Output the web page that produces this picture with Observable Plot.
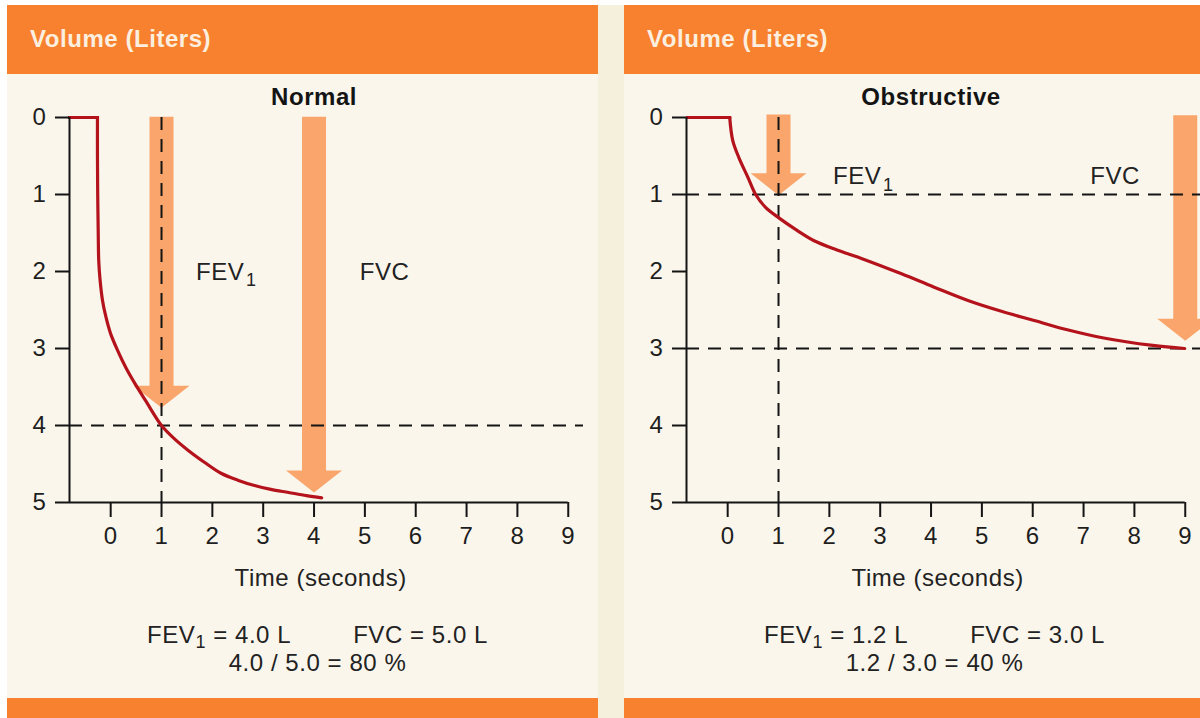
<!DOCTYPE html>
<html><head><meta charset="utf-8">
<script src="https://cdn.jsdelivr.net/npm/d3@7"></script>
<script src="https://cdn.jsdelivr.net/npm/@observablehq/plot@0.6"></script>
<style>
html,body{margin:0;padding:0;}
body{width:1200px;height:718px;overflow:hidden;position:relative;background:#fff;font-family:"Liberation Sans",Arial,sans-serif;}
.gap{position:absolute;left:598px;top:5px;width:26px;height:713px;background:#f4f0dc;}
.panel{position:absolute;top:5px;height:713px;background:#faf6ec;overflow:hidden;}
.head{position:absolute;left:0;top:0;width:100%;height:69px;background:#f7812f;}
.head span{position:absolute;left:23px;top:0;line-height:68px;color:#fcefdf;font-weight:bold;font-size:24px;letter-spacing:0.55px;}
.foot{position:absolute;left:0;bottom:0;width:100%;height:20px;background:#f7812f;}
.chart{position:absolute;left:0;top:69px;width:591px;}
.chart svg{max-width:none !important;}
.chart svg text{letter-spacing:0.55px;}
.cap{position:absolute;left:10.5px;width:600px;text-align:center;font-size:24px;letter-spacing:0.55px;line-height:28px;color:#222;white-space:pre;}
.cap sub{font-size:0.75em;vertical-align:-0.3em;line-height:0;}
</style></head>
<body>
<div class="gap"></div>
<div class="panel" id="p0" style="left:7px;width:591px;"><div class="head"><span>Volume (Liters)</span></div><div class="chart"></div><div class="cap c1" style="top:616px"></div><div class="cap c2" style="top:644px"></div><div class="foot"></div></div>
<div class="panel" id="p1" style="left:624px;width:576px;"><div class="head"><span>Volume (Liters)</span></div><div class="chart"></div><div class="cap c1" style="top:616px"></div><div class="cap c2" style="top:644px"></div><div class="foot"></div></div>
<script>
// ---- data ----
const xDomain = [-0.81, 9.3];
const yTicks = [0, 1, 2, 3, 4, 5];
const xTicks = [0, 1, 2, 3, 4, 5, 6, 7, 8, 9];
const titles = ["Normal", "Obstructive"];

const normalTime   = [-0.81, -0.26, -0.26, -0.255, -0.245, -0.235, -0.21, -0.16, -0.09, 0, 0.14, 0.30, 0.49, 0.69, 1.0, 1.25, 1.52, 1.85, 2.17, 2.5, 2.83, 3.15, 3.5, 3.85, 4.15];
const normalVolume = [0, 0, 0.5, 1.0, 1.5, 1.86, 2.1, 2.38, 2.6, 2.81, 3.03, 3.25, 3.47, 3.68, 4.0, 4.17, 4.32, 4.48, 4.62, 4.71, 4.78, 4.83, 4.87, 4.91, 4.94];

const obstructiveTime   = [-0.79, 0.04, 0.10, 0.22, 0.40, 0.55, 0.75, 1.0, 1.35, 1.70, 2.15, 2.63, 3.42, 4.05, 4.74, 5.4, 6.05, 6.7, 7.37, 8.36, 8.99];
const obstructiveVolume = [0, 0, 0.30, 0.52, 0.78, 1.0, 1.17, 1.30, 1.46, 1.60, 1.72, 1.83, 2.03, 2.2, 2.38, 2.52, 2.64, 2.76, 2.86, 2.96, 3.0];

const normalArrowTime = [1, 4];
const normalArrowTop = [-0.01, -0.01];
const normalArrowTip = [3.77, 4.87];
const obstructiveArrowTime = [1, 9];
const obstructiveArrowTop = [-0.04, -0.03];
const obstructiveArrowTip = [1.01, 2.9];

const normalHLines = [4];
const normalVLines = [1];
const obstructiveHLines = [1, 3];
const obstructiveVLines = [1];

const labelText = ["FEV", "FVC"];
const labelSub = ["1", ""];
const normalLabelTime = [1.68, 4.9];
const normalLabelVolume = [2.01, 2.01];
const obstructiveLabelTime = [2.07, 7.13];
const obstructiveLabelVolume = [0.77, 0.77];

const fev1Values = [4.0, 1.2];
const fvcValues = [5.0, 3.0];

// ---- build ----
const panels = [
  {title: titles[0], t: normalTime, v: normalVolume, at: normalArrowTime, atop: normalArrowTop, atip: normalArrowTip,
   h: normalHLines, vl: normalVLines, lt: normalLabelTime, lv: normalLabelVolume},
  {title: titles[1], t: obstructiveTime, v: obstructiveVolume, at: obstructiveArrowTime, atop: obstructiveArrowTop, atip: obstructiveArrowTip,
   h: obstructiveHLines, vl: obstructiveVLines, lt: obstructiveLabelTime, lv: obstructiveLabelVolume}
];

const W = 591, H = 624, mL = 62, mR = 15, mT = 43, mB = 196;
const xRange = [mL, W - mR], yRange = [mT, H - mB];
const pxX = (xRange[1] - xRange[0]) / (xDomain[1] - xDomain[0]);
const pxY = (yRange[1] - yRange[0]) / 5;
const ink = "#141414", red = "#b5131c", arrowColor = "#f9a56b";
const fs = 24;

panels.forEach((p, i) => {
  const curve = p.t.map((t, k) => ({t, v: p.v[k]}));
  const sw = 12 / pxX, hw = 28 / pxX, hh = 22 / pxY;
  const arrowPts = [];
  p.at.forEach((x, k) => {
    const top = p.atop[k], tip = p.atip[k], base = tip - hh;
    [[x - sw, top], [x + sw, top], [x + sw, base], [x + hw, base], [x, tip], [x - hw, base], [x - sw, base]]
      .forEach(([t, v]) => arrowPts.push({id: k, t, v}));
  });
  const labels = labelText.map((s, k) => ({t: p.lt[k], v: p.lv[k], s, sub: labelSub[k]}));
  const chart = Plot.plot({
    width: W, height: H, marginLeft: mL, marginRight: mR, marginTop: mT, marginBottom: mB,
    x: {domain: xDomain, range: xRange},
    y: {domain: [0, 5], range: yRange},
    style: {background: "transparent", color: ink, fontFamily: '"Liberation Sans", Arial, sans-serif', fontSize: fs + "px", overflow: "visible", maxWidth: "none"},
    marks: [
      Plot.line(arrowPts, {x: "t", y: "v", z: "id", fill: arrowColor, stroke: null, curve: "linear"}),
      Plot.ruleY(p.h, {x1: xDomain[0], x2: xDomain[1], stroke: ink, strokeWidth: 2, strokeDasharray: "13,9"}),
      Plot.ruleX(p.vl, {y1: 0, y2: 5, stroke: ink, strokeWidth: 2, strokeDasharray: "13,9"}),
      Plot.line(curve.slice(0, 2), {x: "t", y: "v", stroke: red, strokeWidth: 3.2, strokeLinecap: "square"}),
      Plot.line(curve.slice(1), {x: "t", y: "v", stroke: red, strokeWidth: 3.2, strokeLinejoin: "round", curve: "catmull-rom"}),
      Plot.ruleX([xDomain[0]], {y1: 0, y2: 5, stroke: ink, strokeWidth: 2}),
      Plot.ruleY([5], {x1: xDomain[0], x2: 9, stroke: ink, strokeWidth: 2}),
      Plot.axisY(yTicks, {anchor: "left", tickSize: 14, tickPadding: 9, tickFormat: d => String(d), fontSize: fs, strokeWidth: 2, label: null, fill: "#1e1e1e"}),
      Plot.axisX(xTicks, {anchor: "bottom", tickSize: 15, tickPadding: 9, tickFormat: d => String(d), fontSize: fs, strokeWidth: 2, label: null, fill: "#1e1e1e"}),
      Plot.text(labels, {x: "t", y: "v", text: "s", textAnchor: "start", fontSize: fs, fill: "#222"}),
      Plot.text(labels.filter(d => d.sub), {x: "t", y: "v", text: "sub", textAnchor: "start", dx: 50, dy: 8, fontSize: 18, fill: "#222"}),
      Plot.text([{t: 4, s: p.title}], {x: "t", text: "s", frameAnchor: "top", lineAnchor: "middle", dy: -20, fontWeight: "bold", fontSize: fs, fill: ink}),
      Plot.text([{t: 4.13, s: "Time (seconds)"}], {x: "t", text: "s", frameAnchor: "bottom", lineAnchor: "middle", dy: 76, fontSize: fs, fill: "#222"})
    ]
  });
  const el = document.getElementById("p" + i);
  el.querySelector(".chart").appendChild(chart);
  const f = fev1Values[i].toFixed(1), c = fvcValues[i].toFixed(1);
  el.querySelector(".c1").innerHTML = `FEV<sub>1</sub> = ${f} L<span style="margin-left:62px">FVC = ${c} L</span>`;
  el.querySelector(".c2").textContent = `${f} / ${c} = ${Math.round(fev1Values[i] / fvcValues[i] * 100)} %`;
});
</script>
</body></html>
